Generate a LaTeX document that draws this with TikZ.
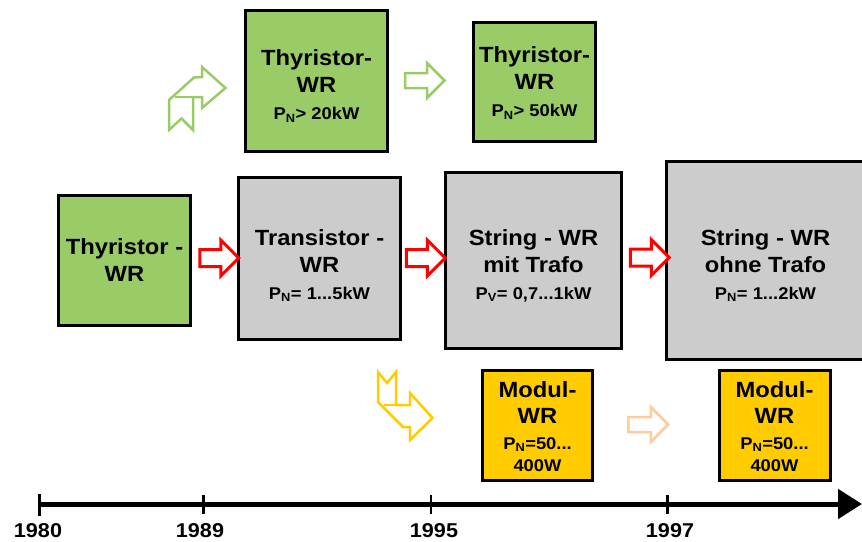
\documentclass[tikz,border=0pt]{standalone}
\usepackage{fontspec}
\setmainfont{Liberation Sans}[FakeStretch=1.08]
\usetikzlibrary{shapes.arrows,arrows.meta}
\definecolor{wrgreen}{HTML}{99CC66}
\definecolor{wrgrey}{HTML}{CCCCCC}
\definecolor{wryellow}{HTML}{FFCC00}
\definecolor{wrorange}{HTML}{FFCC99}
\definecolor{wrred}{HTML}{FF0000}
\newcommand\subtxt{\fontsize{17}{20}\selectfont}
\begin{document}
\begin{tikzpicture}[x=1pt,y=-1pt,
  box/.style={draw=black,line width=3pt,inner sep=0pt},
  boxtext/.style={inner sep=0pt,align=center,
    font=\bfseries\fontsize{22}{27}\selectfont},
  hollow/.style={single arrow,line width=3pt,fill=white,inner xsep=0pt,
    inner ysep=7pt,minimum width=0pt,single arrow head extend=9.5pt,
    minimum height=39pt},
  bent/.style={line width=2.5pt,fill=white,line join=miter},
  year/.style={font=\bfseries\fontsize{20}{22}\selectfont,anchor=base},
  tick/.style={line width=2.5pt}]
\useasboundingbox (0,0) rectangle (862,541);

% boxes
\node[box,fill=wrgreen,minimum width=142pt,minimum height=141pt] (thyA) at (316.5,81) {};
\node[box,fill=wrgreen,minimum width=122pt,minimum height=119pt] (thyB) at (534.5,82) {};
\node[box,fill=wrgreen,minimum width=132pt,minimum height=130pt] (thyL) at (124.5,260.5) {};
\node[box,fill=wrgrey,minimum width=162pt,minimum height=162pt] (trans) at (319.5,258.5) {};
\node[box,fill=wrgrey,minimum width=176pt,minimum height=176pt] (strM) at (533.5,260.5) {};
\node[box,fill=wrgrey,minimum width=198pt,minimum height=198pt] (strO) at (765.5,260.5) {};
\node[box,fill=wryellow,minimum width=110pt,minimum height=110pt] (modA) at (537.5,425.5) {};
\node[box,fill=wryellow,minimum width=111pt,minimum height=110pt] (modB) at (774.5,425.5) {};

% box texts
\node[boxtext] (thyAt) at ([yshift=-5pt]thyA.center)
  {Thyristor-\\WR\\{\subtxt P\textsubscript{N}> 20kW}};
\node[boxtext] (thyBt) at ([yshift=-1pt]thyB.center)
  {Thyristor-\\WR\\{\subtxt P\textsubscript{N}> 50kW}};
\node[boxtext] (thyLt) at (thyL.center) {Thyristor -\\WR};
\node[boxtext] (transt) at ([yshift=-7pt]trans.center)
  {Transistor -\\WR\\{\subtxt P\textsubscript{N}= 1...5kW}};
\node[boxtext] (strMt) at ([yshift=-5pt]strM.center)
  {String - WR\\mit Trafo\\{\subtxt P\textsubscript{V}= 0,7...1kW}};
\node[boxtext] (strOt) at ([yshift=-5pt]strO.center)
  {String - WR\\ohne Trafo\\{\subtxt P\textsubscript{N}= 1...2kW}};
\node[boxtext] (modAt) at ([yshift=-1pt]modA.center)
  {Modul-\\[-1pt]WR\\[-1pt]{\subtxt P\textsubscript{N}=50...}\\[-5pt]{\subtxt 400W}};
\node[boxtext] (modBt) at ([yshift=-1pt]modB.center)
  {Modul-\\[-1pt]WR\\[-1pt]{\subtxt P\textsubscript{N}=50...}\\[-5pt]{\subtxt 400W}};

% straight hollow arrows
\node[hollow,draw=wrred] (ar1) at (215,258) {};
\node[hollow,draw=wrred] (ar2) at (421.5,258) {};
\node[hollow,draw=wrred] (ar3) at (645.5,257.5) {};
\node[hollow,draw=wrgreen,line width=2.5pt,inner ysep=6.25pt,single arrow head extend=10pt,minimum height=39.5pt] (ag1) at (421,80.5) {};
\node[hollow,draw=wrorange,line width=2.5pt,inner ysep=6.25pt,single arrow head extend=10pt,minimum height=40pt] (ao1) at (644.5,424.5) {};

% bent arrows
\draw[bent,draw=wrgreen] (169,130) -- (181.5,118.5) -- (193,130) -- (193,97) -- (202,97)
  -- (202,108) -- (225.5,88) -- (202,67) -- (202,77) -- (194,77.5) -- (169,100) -- cycle;
\draw[bent,draw=wrgreen] (175,97) -- (193,97);
\draw[bent,draw=wryellow] (378,372) -- (387,383) -- (396,372) -- (396,405) -- (410,405)
  -- (410,393) -- (432.5,418) -- (410,440) -- (410,427) -- (403,427) -- (378,402) -- cycle;
\draw[bent,draw=wryellow] (384,405) -- (396,405);

% timeline
\coordinate (t0) at (39,504);
\coordinate (tEnd) at (862,504);
\draw[line width=5pt,-{Triangle[length=24pt,width=29pt]}] (t0) -- (tEnd);
\draw[tick,line width=3pt] (39,494) -- (39,516);
\draw[tick] (203.5,495) -- (203.5,514);
\draw[tick] (431,495) -- (431,514);
\draw[tick,line width=3pt] (667.5,495) -- (667.5,514);
\node[year] (y1980) at (38,537) {1980};
\node[year] (y1989) at (200,537) {1989};
\node[year] (y1995) at (434,537) {1995};
\node[year] (y1997) at (670,537) {1997};
\end{tikzpicture}
\end{document}
